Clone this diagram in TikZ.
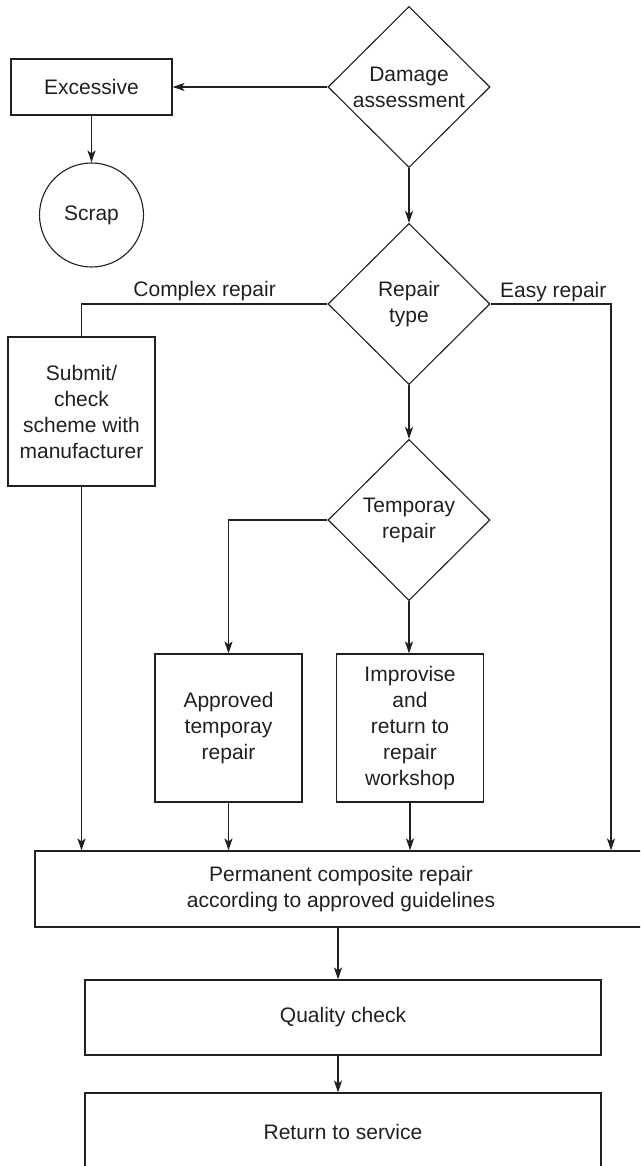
\documentclass[tikz,border=0pt]{standalone}
\usepackage{fontspec}
\setmainfont{Liberation Sans}
\usetikzlibrary{shapes.geometric,arrows.meta}
\definecolor{ink}{HTML}{231F20}
\begin{document}
\begin{tikzpicture}[x=1pt,y=-1pt,
  every node/.style={font=\fontsize{21}{26}\selectfont, text=ink},
  box/.style={draw=ink, line width=1.1pt, rectangle, inner sep=0pt, align=center},
  dia/.style={draw=ink, line width=1.1pt, diamond, aspect=1, minimum width=162pt, minimum height=161pt, inner sep=0pt, align=center},
  ln/.style={draw=ink, line width=1.1pt},
  arr/.style={draw=ink, line width=1.1pt, -{Stealth[length=12pt,width=8pt,inset=3pt]}}]
\useasboundingbox (0,0) rectangle (640,1166);
\clip (0,0) rectangle (640,1166);

\node[dia] (dmg) at (409,87) {Damage\\assessment};
\node[box, minimum width=161pt, minimum height=56pt] (exc) at (91.5,87) {Excessive};
\node[draw=ink, line width=1.1pt, circle, minimum size=104pt, inner sep=0pt] (scrap) at (91.5,215) {Scrap};
\node[dia] (rep) at (409,304) {Repair\\type};
\node[box, minimum width=147pt, minimum height=149pt] (sub) at (81.5,411.5) {Submit/\\check\\scheme with\\manufacturer};
\node[dia] (tmp) at (409,520) {Temporay\\repair};
\node[box, minimum width=147pt, minimum height=148pt] (appr) at (228.5,728) {Approved\\temporay\\repair};
\node[box, minimum width=147pt, minimum height=148pt] (impr) at (410,728) {Improvise\\and\\return to\\repair\\workshop};
\node[box, minimum width=612pt, minimum height=76pt] (perm) at (341,889) {Permanent composite repair\\according to approved guidelines};
\node[box, minimum width=516pt, minimum height=75pt] (qual) at (343,1017.5) {Quality check};
\node[box, minimum width=516pt, minimum height=78pt] (ret) at (343,1132) {Return to service};

\node[anchor=base east, inner sep=0pt] (lc) at (276,296) {Complex repair};
\node[anchor=base west, inner sep=0pt] (le) at (500,297) {Easy repair};

\coordinate (ez) at (611,304);
\coordinate (ax) at (338,0);

\draw[arr] (dmg.west) -- (exc.east);
\draw[arr] (exc.south) -- (scrap.north);
\draw[arr] (dmg.south) -- (rep.north);
\draw[ln] (rep.west) -| (sub.north);
\draw[arr] (rep.east) -- (ez) -- (ez |- perm.north);
\draw[arr] (rep.south) -- (tmp.north);
\draw[arr] (tmp.west) -| (appr.north);
\draw[arr] (tmp.south) -- (tmp.south |- impr.north);
\draw[arr] (sub.south) -- (sub.south |- perm.north);
\draw[arr] (appr.south) -- (appr.south |- perm.north);
\draw[arr] (impr.south) -- (impr.south |- perm.north);
\draw[arr] (perm.south -| ax) -- (qual.north -| ax);
\draw[arr] (qual.south -| ax) -- (ret.north -| ax);
\end{tikzpicture}
\end{document}
